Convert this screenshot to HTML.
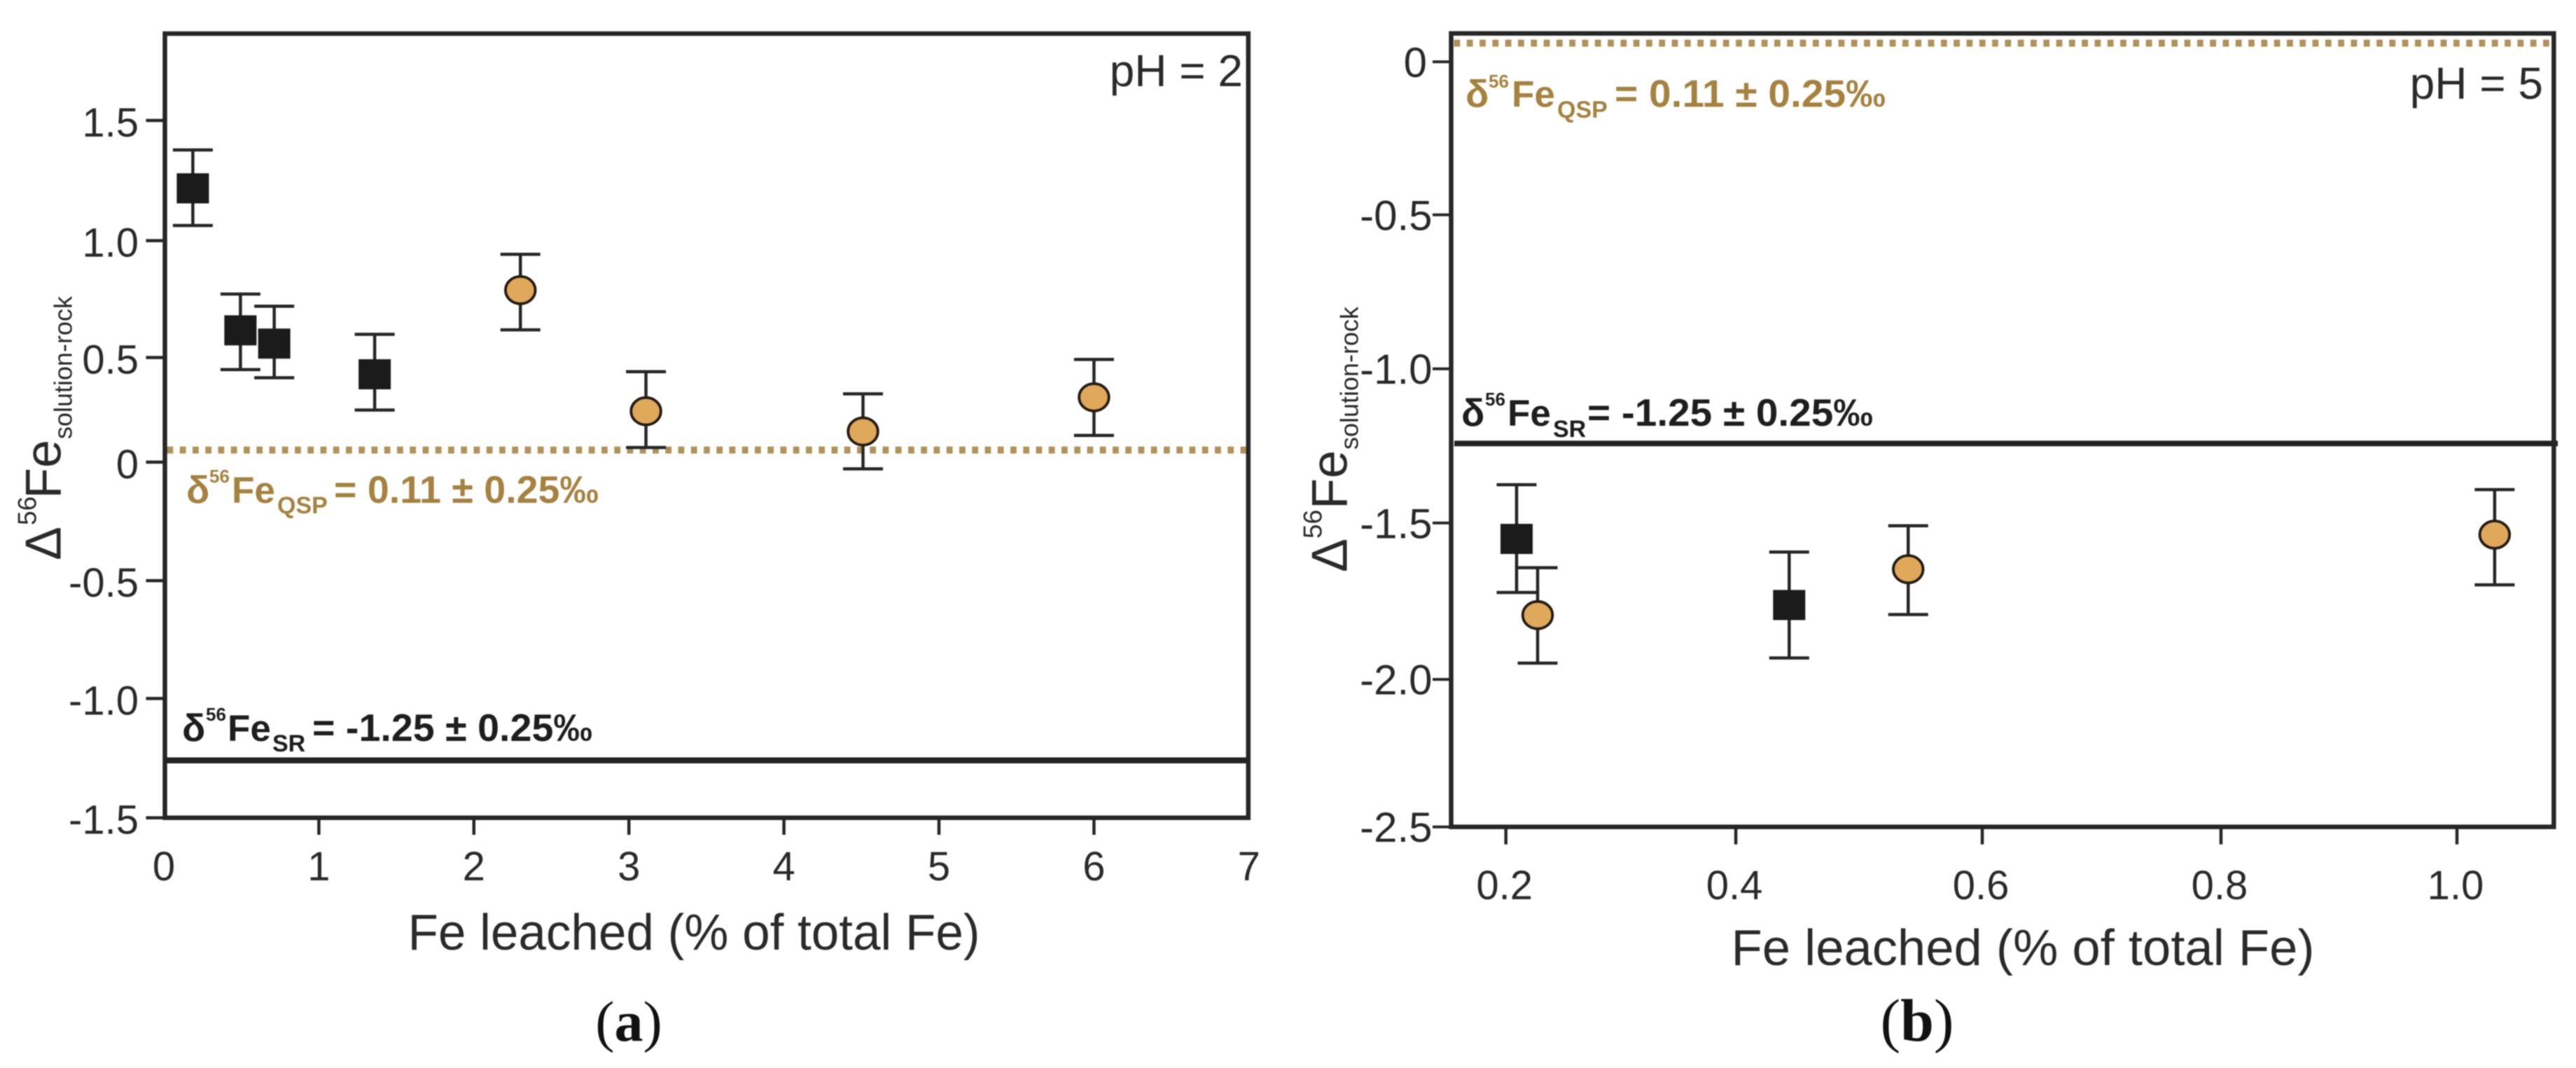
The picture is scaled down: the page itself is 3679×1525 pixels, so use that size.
<!DOCTYPE html>
<html lang="en">
<head>
<meta charset="utf-8">
<title>Fe isotope fractionation versus Fe leached at pH 2 and pH 5</title>
<style>
  html, body { margin: 0; padding: 0; background: #ffffff; }
  #figure { display: block; width: 3679px; height: 1525px; filter: blur(0.9px); }
  text { font-family: "Liberation Sans", sans-serif; fill: #2a2a2a; }
  .ann { font-weight: bold; }
  .gold { fill: #a5823f; }
  .dark { fill: #1e1e1e; }
  .cap { font-family: "Liberation Serif", serif; fill: #111111; font-size: 82px; }
</style>
</head>
<body>
<svg id="figure" xmlns="http://www.w3.org/2000/svg" width="3679" height="1525" viewBox="0 0 3679 1525">
  <rect x="0" y="0" width="3679" height="1525" fill="#ffffff"/>

  <g id="panel-a"></g>
  <g id="panel-b"></g>

  <!-- Panel a text -->
  <text x="1775" y="123" font-size="64" text-anchor="end">pH = 2</text>
  <g class="ann">
    <text class="ann gold" x="266" y="718" font-size="55">δ</text>
    <text class="ann gold" x="299" y="689" font-size="26" font-weight="normal">56</text>
    <text class="ann gold" x="331" y="718" font-size="53">Fe</text>
    <text class="ann gold" x="396" y="733" font-size="34">QSP</text>
    <text class="ann gold" x="477" y="718" font-size="55" textLength="378" lengthAdjust="spacingAndGlyphs">= 0.11 ± 0.25‰</text>
  </g>
  <g class="ann">
    <text class="ann dark" x="260" y="1058" font-size="55">δ</text>
    <text class="ann dark" x="294" y="1029" font-size="26" font-weight="normal">56</text>
    <text class="ann dark" x="325" y="1058" font-size="53">Fe</text>
    <text class="ann dark" x="389" y="1073" font-size="34">SR</text>
    <text class="ann dark" x="446" y="1058" font-size="55" textLength="400" lengthAdjust="spacingAndGlyphs">= -1.25 ± 0.25‰</text>
  </g>
  <text x="991" y="1356" font-size="72" text-anchor="middle" textLength="817" lengthAdjust="spacingAndGlyphs">Fe leached (% of total Fe)</text>
  <g>
    <text transform="translate(86.7,800) rotate(-90)" font-size="72">Δ</text>
    <text transform="translate(51.7,750) rotate(-90)" font-size="37">56</text>
    <text transform="translate(86.7,712) rotate(-90)" font-size="72">Fe</text>
    <text transform="translate(102.7,627) rotate(-90)" font-size="36">solution-rock</text>
  </g>
  <text class="cap" x="898" y="1486" text-anchor="middle">(<tspan font-weight="bold">a</tspan>)</text>

  <!-- Panel b text -->
  <text x="3632" y="141" font-size="64" text-anchor="end">pH = 5</text>
  <g class="ann">
    <text class="ann gold" x="2093" y="152.7" font-size="55">δ</text>
    <text class="ann gold" x="2126" y="125" font-size="26" font-weight="normal">56</text>
    <text class="ann gold" x="2159" y="152.7" font-size="53">Fe</text>
    <text class="ann gold" x="2224" y="168" font-size="34">QSP</text>
    <text class="ann gold" x="2306" y="152.7" font-size="55" textLength="387" lengthAdjust="spacingAndGlyphs">= 0.11 ± 0.25‰</text>
  </g>
  <g class="ann">
    <text class="ann dark" x="2087" y="608" font-size="55">δ</text>
    <text class="ann dark" x="2121" y="579" font-size="26" font-weight="normal">56</text>
    <text class="ann dark" x="2153" y="608" font-size="53">Fe</text>
    <text class="ann dark" x="2218" y="624" font-size="34">SR</text>
    <text class="ann dark" x="2267" y="608" font-size="55" textLength="408" lengthAdjust="spacingAndGlyphs">= -1.25 ± 0.25‰</text>
  </g>
  <text x="2889" y="1378" font-size="72" text-anchor="middle" textLength="833" lengthAdjust="spacingAndGlyphs">Fe leached (% of total Fe)</text>
  <g>
    <text transform="translate(1923.3,817) rotate(-90)" font-size="72">Δ</text>
    <text transform="translate(1887.3,769) rotate(-90)" font-size="37">56</text>
    <text transform="translate(1923.3,727) rotate(-90)" font-size="72">Fe</text>
    <text transform="translate(1939.3,642) rotate(-90)" font-size="36">solution-rock</text>
  </g>
  <text class="cap" x="2738" y="1486" text-anchor="middle" style="font-size:86px">(<tspan font-weight="bold">b</tspan>)</text>
</svg>

<script>
// ---------- Panel a data (pH = 2) ----------
const aLeached   = [0.187, 0.494, 0.712, 1.36, 2.30, 3.11, 4.51, 6.00];
const aDelta     = [1.208, 0.597, 0.540, 0.408, 0.770, 0.249, 0.162, 0.309];
const aErrHigh   = [1.373, 0.753, 0.701, 0.580, 0.924, 0.419, 0.324, 0.472];
const aErrLow    = [1.048, 0.428, 0.393, 0.254, 0.599, 0.093, 0.001, 0.145];
const aSeries    = ['square', 'square', 'square', 'square', 'circle', 'circle', 'circle', 'circle'];
const aQspValue  = 0.082;
const aSrValue   = -1.253;
const aYTickVals = [1.5, 0.983, 0.480, 0.030, -0.480, -0.987, -1.5];
const aYTickText = ['1.5', '1.0', '0.5', '0', '-0.5', '-1.0', '-1.5'];
const aXTickVals = [0, 1, 2, 3, 4, 5, 6, 7];
const aXTickText = ['0', '1', '2', '3', '4', '5', '6', '7'];

// ---------- Panel b data (pH = 5) ----------
const bLeached   = [0.209, 0.2267, 0.4383, 0.5384, 1.0317];
const bDelta     = [-1.559, -1.808, -1.775, -1.658, -1.545];
const bErrHigh   = [-1.382, -1.653, -1.602, -1.516, -1.398];
const bErrLow    = [-1.734, -1.965, -1.948, -1.806, -1.709];
const bSeries    = ['square', 'circle', 'square', 'circle', 'circle'];
const bQspValue  = 0.061;
const bSrValue   = -1.247;
const bYTickVals = [0, -0.5, -1.003, -1.507, -2.018, -2.5];
const bYTickText = ['0', '-0.5', '-1.0', '-1.5', '-2.0', '-2.5'];
const bXTickVals = [0.2, 0.3934, 0.6007, 0.8015, 1.0];
const bXTickText = ['0.2', '0.4', '0.6', '0.8', '1.0'];

const SVG_NS = 'http://www.w3.org/2000/svg';
const INK = '#262626';

function mk(parent, tag, attrs) {
  const el = document.createElementNS(SVG_NS, tag);
  for (const k in attrs) el.setAttribute(k, attrs[k]);
  parent.appendChild(el);
  return el;
}

// Axis functions
function ax(v) { return 234 + 221.4 * v; }
function ay(v) { return 669.85 - 331.9 * v; }
function bx(v) { return 1811.1 + 1697.9 * v; }
function by(v) { return 88.3 - 436.96 * v; }

function drawMarks(group, xs, ys, highs, lows, kinds, xFn, yFn, panelId) {
  xs.forEach(function (xv, i) {
    const cx = xFn(xv);
    const cy = yFn(ys[i]);
    const top = yFn(highs[i]);
    const bot = yFn(lows[i]);

    const stem = mk(group, 'line', { x1: cx, x2: cx, y1: top, y2: bot, stroke: INK, 'stroke-width': 4.5 });
    
    

    const capTop = mk(group, 'line', { x1: cx - 28.5, x2: cx + 28.5, y1: top, y2: top, stroke: INK, 'stroke-width': 4.5 });
    
    

    const capBot = mk(group, 'line', { x1: cx - 28.5, x2: cx + 28.5, y1: bot, y2: bot, stroke: INK, 'stroke-width': 4.5 });
    
    

    if (kinds[i] === 'square') {
      const sq = mk(group, 'rect', { x: cx - 23, y: cy - 21.5, width: 46, height: 43, fill: '#1b1b1b' });
      
      
    } else {
      const c = mk(group, 'ellipse', { cx: cx, cy: cy, rx: 21.3, ry: 19.5, fill: '#dfa85a', stroke: '#241c14', 'stroke-width': 3.8 });
      
      
    }
  });
}

// ---------- Panel a ----------
(function () {
  const g = document.getElementById('panel-a');
  const L = ax(0) + 1.5, R = ax(7) - 1, T = 48, B = ay(-1.5);

  const qsp = mk(g, 'line', { x1: L + 3, x2: R, y1: ay(aQspValue), y2: ay(aQspValue), stroke: '#b1925a', 'stroke-width': 10, 'stroke-dasharray': '8.8 9.45' });
  
  

  const sr = mk(g, 'line', { x1: L, x2: R, y1: ay(aSrValue), y2: ay(aSrValue), stroke: '#222222', 'stroke-width': 8.5 });
  
  

  const frame = mk(g, 'rect', { x: L, y: T, width: R - L, height: B - T, fill: 'none', stroke: '#262626', 'stroke-width': 6.5 });
  
  

  aYTickVals.forEach(function (v, i) {
    const y = ay(v);
    const t = mk(g, 'line', { x1: 208.5, x2: L, y1: y, y2: y, stroke: INK, 'stroke-width': 4.5 });
    
    
    const lab = mk(g, 'text', { x: 198, y: y + 23, 'font-size': 58, 'text-anchor': 'end' });
    lab.textContent = aYTickText[i];
    
    
  });

  aXTickVals.forEach(function (v, i) {
    const x = ax(v);
    if (v > 0 && v < 7) {
      const t = mk(g, 'line', { x1: x, x2: x, y1: B, y2: 1192, stroke: INK, 'stroke-width': 4.5 });
      
      
    }
    const lab = mk(g, 'text', { x: x, y: 1257, 'font-size': 58, 'text-anchor': 'middle' });
    lab.textContent = aXTickText[i];
    
    
  });

  drawMarks(g, aLeached, aDelta, aErrHigh, aErrLow, aSeries, ax, ay, 'a');
})();

// ---------- Panel b ----------
(function () {
  const g = document.getElementById('panel-b');
  const L = 2072.5, R = 3647.3, T = 47.7, B = by(-2.5);

  const qsp = mk(g, 'line', { x1: L + 4, x2: R - 2, y1: by(bQspValue), y2: by(bQspValue), stroke: '#b1925a', 'stroke-width': 10, 'stroke-dasharray': '8.8 9.5' });
  
  

  const sr = mk(g, 'line', { x1: 2077, x2: 3653, y1: by(bSrValue), y2: by(bSrValue), stroke: '#222222', 'stroke-width': 8 });
  
  

  const frame = mk(g, 'rect', { x: L, y: T, width: R - L, height: B - T, fill: 'none', stroke: '#262626', 'stroke-width': 6.5 });
  
  

  bYTickVals.forEach(function (v, i) {
    const y = by(v);
    const t = mk(g, 'line', { x1: 2046, x2: L, y1: y, y2: y, stroke: INK, 'stroke-width': 4 });
    
    
    const lab = mk(g, 'text', { x: bYTickText[i].length === 1 ? 2038 : 2045.5, y: y + 21.5, 'font-size': 60, 'text-anchor': 'end' });
    lab.textContent = bYTickText[i];
    
    
  });

  bXTickVals.forEach(function (v, i) {
    const x = bx(v);
    const t = mk(g, 'line', { x1: x, x2: x, y1: B, y2: 1205.7, stroke: INK, 'stroke-width': 4.5 });
    
    
    const lab = mk(g, 'text', { x: x - 2, y: 1284, 'font-size': 58, 'text-anchor': 'middle' });
    lab.textContent = bXTickText[i];
    
    
  });

  drawMarks(g, bLeached, bDelta, bErrHigh, bErrLow, bSeries, bx, by, 'b');
})();
</script>
</body>
</html>
